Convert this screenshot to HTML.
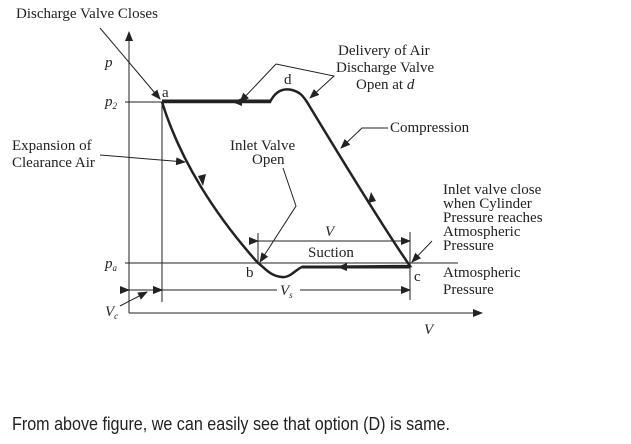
<!DOCTYPE html>
<html><head><style>body{margin:0;background:#fff}svg{display:block}</style></head><body>
<svg width="631" height="444" viewBox="0 0 631 444" xmlns="http://www.w3.org/2000/svg" font-family="Liberation Serif, serif" fill="#222">
<defs><marker id="ar" markerWidth="10" markerHeight="8" refX="9" refY="4" orient="auto" markerUnits="userSpaceOnUse"><path d="M0,0 L10,4 L0,8 Z" fill="#222"/></marker></defs>
<g stroke="#222" fill="none" stroke-width="1">
<line x1="129" y1="313" x2="129" y2="32" marker-end="url(#ar)"/>
<line x1="129" y1="313" x2="482" y2="313" marker-end="url(#ar)"/>
<line x1="125" y1="102" x2="162" y2="102"/>
<line x1="162" y1="102" x2="162" y2="302"/>
<line x1="125" y1="263" x2="458" y2="263"/>
<line x1="258" y1="233" x2="258" y2="263"/>
<line x1="410" y1="232" x2="410" y2="300"/>
<line x1="258" y1="241" x2="410" y2="241" marker-start="url(#ar)" marker-end="url(#ar)"/>
<line x1="162" y1="290" x2="277" y2="290" marker-start="url(#ar)"/>
<line x1="300" y1="290" x2="410" y2="290" marker-end="url(#ar)"/>
<line x1="129" y1="290" x2="162" y2="290" marker-start="url(#ar)" marker-end="url(#ar)"/>
<path d="M162,102 L270,102 C276,90 284,88 292,90 C300,92 303,96 307,102 C330,140 385,230 410,266 L302,267 C295,270 290,278 282,277 C270,276 265,268 258,263 C215,215 180,160 162,102" stroke-width="2.5"/>
<line x1="162" y1="101" x2="270" y2="101" stroke-width="3"/>
<line x1="302" y1="267" x2="410" y2="267" stroke-width="3"/>
<line x1="100" y1="28" x2="160" y2="99" marker-end="url(#ar)"/>
<polyline points="276,64 240,102" marker-end="url(#ar)"/>
<polyline points="276,64 334,76 310,98" marker-end="url(#ar)"/>
<polyline points="100,155 185,162" marker-end="url(#ar)"/>
<polyline points="388,128 362,128 341,148" marker-end="url(#ar)"/>
<polyline points="283,168 296,206 260,262" marker-end="url(#ar)"/>
<line x1="432" y1="241" x2="412" y2="262" marker-end="url(#ar)"/>
<line x1="120" y1="306" x2="147" y2="292" marker-end="url(#ar)"/>
</g>
<path d="M232,102 L242,98 L242,106 Z"/>
<path d="M337,267 L347,263 L347,271 Z"/>
<path d="M203,186 L198,176 L206,174 Z"/>
<path d="M371,192 L368,203 L376,201 Z"/>
<g font-size="15">
<text x="16" y="18">Discharge Valve Closes</text>
<text x="105" y="67" font-style="italic">p</text>
<text x="105" y="106" font-style="italic">p<tspan font-size="9" dy="3">2</tspan></text>
<text x="105" y="268" font-style="italic">p<tspan font-size="9" dy="3">a</tspan></text>
<text x="162" y="97">a</text>
<text x="284" y="84">d</text>
<text x="246" y="277">b</text>
<text x="414" y="281">c</text>
<text x="338" y="55">Delivery of Air</text>
<text x="336" y="72">Discharge Valve</text>
<text x="356" y="89">Open at <tspan font-style="italic">d</tspan></text>
<text x="390" y="132">Compression</text>
<text x="12" y="150">Expansion of</text>
<text x="12" y="167">Clearance Air</text>
<text x="230" y="150">Inlet Valve</text>
<text x="252" y="164">Open</text>
<text x="443" y="194">Inlet valve close</text>
<text x="443" y="208">when Cylinder</text>
<text x="443" y="222">Pressure reaches</text>
<text x="443" y="236">Atmospheric</text>
<text x="443" y="250">Pressure</text>
<text x="443" y="277">Atmospheric</text>
<text x="443" y="294">Pressure</text>
<text x="308" y="257">Suction</text>
<text x="325" y="236" font-style="italic">V</text>
<text x="280" y="295" font-style="italic">V<tspan font-size="9" dy="3">s</tspan></text>
<text x="105" y="316" font-style="italic">V<tspan font-size="9" dy="3">c</tspan></text>
<text x="424" y="334" font-style="italic">V</text>
</g>
<text x="12" y="430" font-size="18" font-family="Liberation Sans, sans-serif" textLength="438" lengthAdjust="spacingAndGlyphs">From above figure, we can easily see that option (D) is same.</text>
</svg>
</body></html>
